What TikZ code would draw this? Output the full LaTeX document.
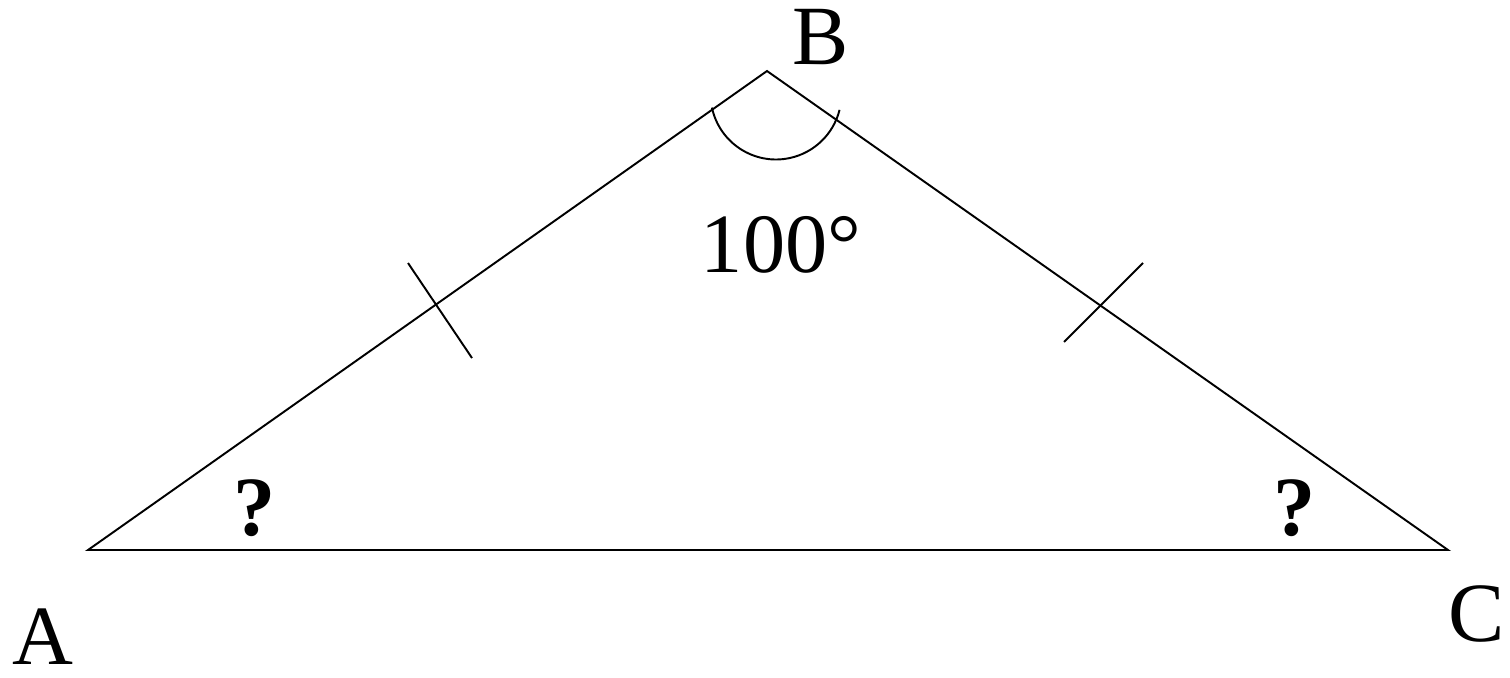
\documentclass[tikz,border=0pt]{standalone}
\usepackage{fontspec}
\setmainfont{Liberation Serif}
\usetikzlibrary{calc}

\begin{document}
\begin{tikzpicture}[x=0.02cm,y=-0.02cm,
  edge/.style={line width=1.1pt,line join=miter},
  lbl/.style={font=\fontsize{48}{58}\selectfont,inner sep=0pt,anchor=base},
  qmark/.style={lbl,font=\fontsize{48}{58}\selectfont\bfseries}
]
  \useasboundingbox (0,0) rectangle (1510,677);
  \coordinate (A) at (88,550);
  \coordinate (B) at (767,71);
  \coordinate (C) at (1448,550);
  \coordinate (Bc) at (776,94);
  % triangle
  \draw[edge] (A) -- (B) -- (C) -- cycle;
  % equal sides
  \draw[edge] (408,263) -- (472,358);
  \draw[edge] (1143,263) -- (1064,342);
  % angle at B
  \draw[edge] ([shift={(192:1.31cm)}]Bc) arc[start angle=192,end angle=346,radius=1.31cm];
  \node[lbl] (lA) at (43,664) {A};
  \node[lbl] (lB) at (821,64) {B};
  \node[lbl] (lC) at (1477,641) {C};
  \node[lbl] (ang) at (781,272) {100°};
  \node[qmark] (qA) at (255,535) {?};
  \node[qmark] (qC) at (1295,535) {?};
\end{tikzpicture}
\end{document}
